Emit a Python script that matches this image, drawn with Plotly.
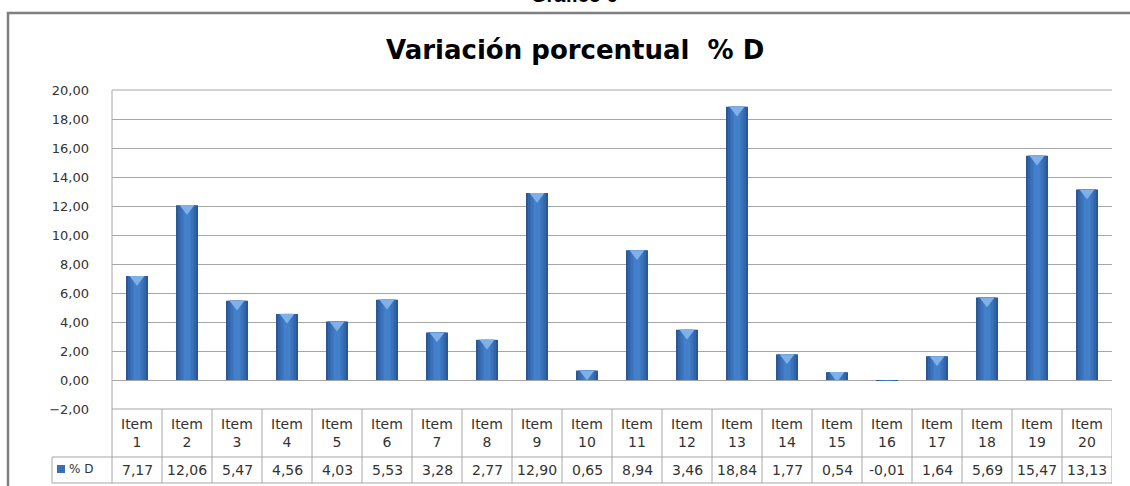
import plotly.graph_objects as go

categories = [f"Item {i}" for i in range(1, 21)]
values = [7.17, 12.06, 5.47, 4.56, 4.03, 5.53, 3.28, 2.77, 12.90, 0.65,
          8.94, 3.46, 18.84, 1.77, 0.54, -0.01, 1.64, 5.69, 15.47, 13.13]
series_name = "% D"
chart_title = "Variación porcentual  % D"
page_title = "Gráfico 6"

W, H = 1130, 486
L, R, T, B = 112, 18, 90, 77
PH = H - T - B
PW = W - L - R

def py(p):  # pixel y -> paper
    return (H - B - p) / PH

def px(p):  # pixel x -> paper
    return (p - L) / PW

FONT = "DejaVu Sans"
fig = go.Figure()

# layered bars for a cylinder-like shading
layers = [(0.44, "#2b5894"), (0.36, "#3266aa"), (0.26, "#3a72bb"), (0.14, "#4480c9")]
for w, c in layers:
    fig.add_trace(go.Bar(x=categories, y=values, width=w, marker=dict(color=c, line=dict(width=0)),
                         name=series_name, showlegend=False, hoverinfo="skip"))

# light bevel cap on top of each bar
cap_x = [c for c, v in zip(categories, values) if v > 0.3]
cap_y = [v - 0.22 for v in values if v > 0.3]
fig.add_trace(go.Scatter(x=cap_x, y=cap_y, mode="markers", showlegend=False, hoverinfo="skip",
                         marker=dict(symbol="triangle-down", size=13, color="#80b0e8",
                                     line=dict(width=0))))

fig.update_layout(
    width=W, height=H, barmode="overlay",
    margin=dict(l=L, r=R, t=T, b=B),
    paper_bgcolor="white", plot_bgcolor="white",
    separators=",.",
    font=dict(family=FONT, color="#262626"),
    showlegend=False,
)
fig.update_yaxes(range=[-2, 20], dtick=2, tickformat=".2f", showgrid=True, gridcolor="#a6a6a6",
                 gridwidth=1, zeroline=True, zerolinecolor="#a6a6a6", zerolinewidth=1,
                 showline=False, ticks="", tickfont=dict(size=13, color="#333333", family=FONT),
                 ticklabelstandoff=22, fixedrange=True)
fig.update_xaxes(range=[-0.5, 19.5], showticklabels=False, showgrid=False, zeroline=False,
                 showline=False, ticks="", fixedrange=True)

shapes = []
line = dict(color="#a6a6a6", width=1)
# outer chart border (top and left visible)
shapes.append(dict(type="rect", xref="paper", yref="paper", x0=px(8), x1=px(1150),
                   y0=py(510), y1=py(13), line=dict(color="#7f7f7f", width=2.5)))
# plot left border
shapes.append(dict(type="line", xref="paper", yref="paper", x0=0, x1=0, y0=py(483), y1=1, line=line))
# top grid line and table top line
shapes.append(dict(type="line", xref="paper", yref="paper", x0=0, x1=1, y0=1, y1=1, line=line))
shapes.append(dict(type="line", xref="paper", yref="paper", x0=0, x1=1, y0=0, y1=0, line=line))
# table horizontal lines
shapes.append(dict(type="line", xref="paper", yref="paper", x0=px(52), x1=1, y0=py(457), y1=py(457), line=line))
shapes.append(dict(type="line", xref="paper", yref="paper", x0=px(52), x1=1, y0=py(483), y1=py(483), line=line))
shapes.append(dict(type="line", xref="paper", yref="paper", x0=px(52), x1=px(52), y0=py(483), y1=py(457), line=line))
# vertical separators between categories
for i in range(len(categories)):
    shapes.append(dict(type="line", xref="x", yref="paper", x0=i + 0.5, x1=i + 0.5,
                       y0=py(483), y1=0, line=line))
# legend key square
shapes.append(dict(type="rect", xref="paper", yref="paper", x0=px(57), x1=px(65),
                   y0=py(473), y1=py(465), line=dict(width=0), fillcolor="#3a6fb8"))
fig.update_layout(shapes=shapes)

ann = []
ann.append(dict(text=chart_title, xref="paper", yref="paper", x=px(575), y=py(50),
                xanchor="center", yanchor="middle",
                showarrow=False, font=dict(size=26, color="#000000", family=FONT, weight="bold")))
ann.append(dict(text=f"<b>{page_title}</b>", xref="paper", yref="paper", x=px(574), y=py(-5),
                xanchor="center", yanchor="middle",
                showarrow=False, font=dict(size=20, color="#000000", family="Liberation Sans")))
for cat, v in zip(categories, values):
    w, n = cat.split(" ")
    ann.append(dict(text=f"{w}<br>{n}", x=cat, xref="x", yref="paper", y=py(433),
                    xanchor="center", yanchor="middle",
                    showarrow=False, font=dict(size=14, color="#333333", family=FONT)))
    ann.append(dict(text=f"{v:.2f}".replace(".", ","), x=cat, xref="x", yref="paper", y=py(470),
                    xanchor="center", yanchor="middle",
                    showarrow=False, font=dict(size=14, color="#333333", family=FONT)))
ann.append(dict(text=series_name, xref="paper", yref="paper", x=px(67), y=py(469),
                xanchor="left", yanchor="middle",
                showarrow=False, font=dict(size=12, color="#333333", family=FONT)))
fig.update_layout(annotations=ann)

fig.write_html("out.html", config={"displayModeBar": False},
               post_script="document.body.style.margin='0';")
